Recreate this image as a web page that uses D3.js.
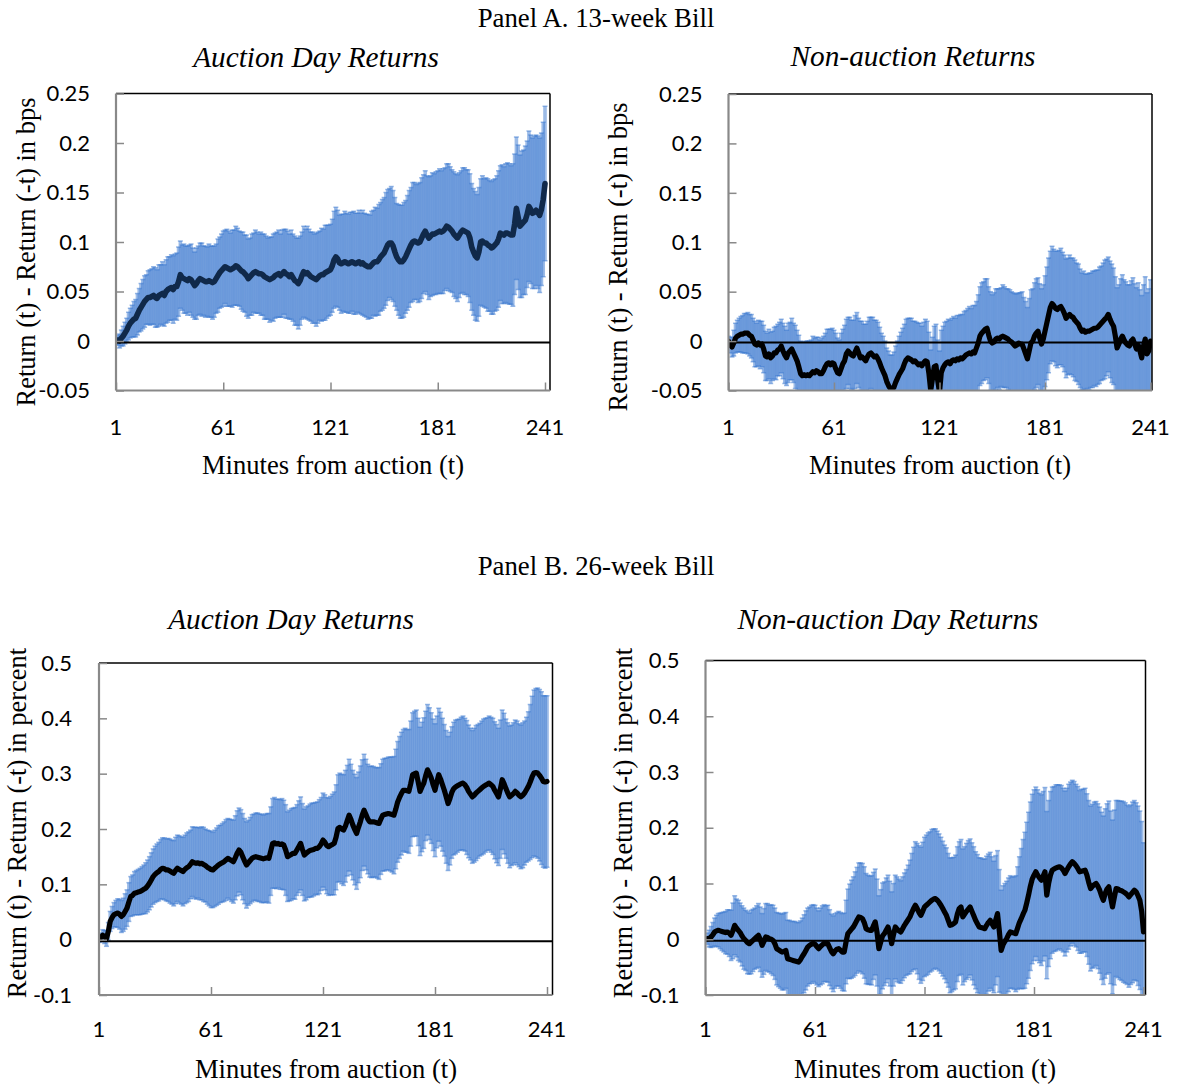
<!DOCTYPE html>
<html><head><meta charset="utf-8">
<script src="https://cdn.jsdelivr.net/npm/d3@7"></script>
<style>body{margin:0;background:#fff}svg{display:block}</style>
</head><body>
<svg id="chart" width="1178" height="1084"></svg>
<script>
// ---------- DATA ----------
const minutes = d3.range(1, 242);            // minutes from auction 1..241
const xTickValues = [1, 61, 121, 181, 241];
const xTickLabels = ["1", "61", "121", "181", "241"];
const yTicks13 = [-0.05, 0, 0.05, 0.1, 0.15, 0.2, 0.25];
const yTickLabels13 = ["-0.05", "0", "0.05", "0.1", "0.15", "0.2", "0.25"];
const yTicks26 = [-0.1, 0, 0.1, 0.2, 0.3, 0.4, 0.5];
const yTickLabels26 = ["-0.1", "0", "0.1", "0.2", "0.3", "0.4", "0.5"];

const panelTitles = ["Panel A. 13-week Bill", "Panel B. 26-week Bill"];
const subTitles = ["Auction Day Returns", "Non-auction Returns", "Auction Day Returns", "Non-auction Day Returns"];
const yTitles = ["Return (t) - Return (-t) in bps", "Return (t) - Return (-t) in bps",
                 "Return (t) - Return (-t) in percent", "Return (t) - Return (-t) in percent"];
const xTitle = "Minutes from auction (t)";

// 13-week bill, auction day: mean and CI half-width
const mean13Auction = [
0.000,0.001,0.000,0.003,0.005,0.008,0.011,0.015,0.018,0.020,
0.022,0.023,0.027,0.031,0.034,0.037,0.040,0.042,0.044,0.044,
0.045,0.046,0.044,0.043,0.046,0.047,0.048,0.046,0.050,0.052,
0.053,0.054,0.052,0.055,0.055,0.060,0.067,0.064,0.063,0.062,
0.061,0.063,0.062,0.059,0.056,0.058,0.061,0.063,0.062,0.061,
0.060,0.060,0.061,0.060,0.059,0.060,0.063,0.066,0.069,0.071,
0.073,0.075,0.074,0.073,0.072,0.073,0.074,0.076,0.075,0.073,
0.071,0.070,0.068,0.066,0.063,0.065,0.067,0.069,0.070,0.069,
0.068,0.068,0.067,0.065,0.064,0.063,0.062,0.063,0.064,0.066,
0.067,0.068,0.066,0.068,0.070,0.068,0.067,0.065,0.067,0.064,
0.061,0.060,0.058,0.061,0.066,0.070,0.068,0.069,0.067,0.065,
0.064,0.063,0.062,0.064,0.066,0.067,0.067,0.069,0.070,0.071,
0.072,0.076,0.082,0.085,0.083,0.079,0.078,0.079,0.080,0.079,
0.078,0.079,0.080,0.079,0.078,0.079,0.080,0.078,0.079,0.077,
0.076,0.075,0.075,0.077,0.079,0.080,0.080,0.082,0.085,0.087,
0.089,0.093,0.097,0.099,0.099,0.096,0.090,0.085,0.082,0.080,
0.080,0.082,0.085,0.089,0.093,0.097,0.100,0.101,0.100,0.099,
0.100,0.104,0.108,0.111,0.107,0.104,0.106,0.108,0.108,0.109,
0.110,0.111,0.110,0.111,0.113,0.116,0.115,0.113,0.111,0.108,
0.106,0.104,0.107,0.110,0.112,0.111,0.110,0.109,0.104,0.095,
0.090,0.086,0.084,0.090,0.100,0.101,0.099,0.099,0.097,0.096,
0.094,0.095,0.097,0.099,0.103,0.109,0.108,0.107,0.109,0.109,
0.108,0.107,0.107,0.118,0.134,0.125,0.116,0.118,0.120,0.122,
0.128,0.136,0.133,0.129,0.130,0.132,0.130,0.127,0.133,0.143,
0.159];
const ci13Auction = [
0.004,0.005,0.007,0.008,0.010,0.011,0.012,0.014,0.015,0.016,
0.018,0.019,0.021,0.022,0.024,0.025,0.026,0.025,0.027,0.028,
0.028,0.029,0.030,0.029,0.031,0.030,0.032,0.031,0.032,0.033,
0.032,0.033,0.034,0.033,0.034,0.035,0.034,0.033,0.035,0.034,
0.035,0.034,0.036,0.035,0.034,0.036,0.035,0.036,0.037,0.035,
0.036,0.035,0.037,0.036,0.037,0.036,0.035,0.037,0.036,0.037,
0.038,0.037,0.039,0.038,0.037,0.039,0.038,0.040,0.039,0.038,
0.039,0.040,0.039,0.041,0.040,0.039,0.041,0.040,0.042,0.041,
0.040,0.042,0.041,0.043,0.042,0.041,0.043,0.042,0.044,0.043,
0.043,0.044,0.042,0.044,0.043,0.045,0.044,0.043,0.045,0.044,
0.045,0.044,0.046,0.045,0.044,0.046,0.045,0.047,0.046,0.045,
0.046,0.045,0.047,0.046,0.045,0.047,0.046,0.048,0.047,0.046,
0.046,0.047,0.049,0.050,0.049,0.048,0.050,0.049,0.051,0.050,
0.050,0.051,0.050,0.052,0.051,0.050,0.052,0.051,0.053,0.052,
0.052,0.053,0.052,0.054,0.053,0.055,0.054,0.056,0.055,0.056,
0.056,0.057,0.056,0.055,0.057,0.056,0.055,0.054,0.056,0.057,
0.057,0.058,0.057,0.058,0.059,0.058,0.060,0.059,0.058,0.060,
0.060,0.061,0.060,0.061,0.060,0.062,0.061,0.062,0.061,0.062,
0.062,0.063,0.062,0.063,0.062,0.063,0.064,0.063,0.062,0.063,
0.063,0.064,0.063,0.062,0.063,0.064,0.063,0.064,0.065,0.064,
0.064,0.065,0.064,0.065,0.064,0.066,0.065,0.066,0.067,0.066,
0.067,0.068,0.067,0.068,0.069,0.068,0.070,0.069,0.070,0.071,
0.071,0.070,0.072,0.071,0.072,0.073,0.072,0.074,0.073,0.075,
0.074,0.076,0.075,0.076,0.077,0.076,0.077,0.078,0.077,0.078,
0.078];

// 13-week bill, non-auction days
const mean13NonAuction = [
0.000,-0.004,-0.006,-0.002,0.003,0.005,0.006,0.007,0.007,0.008,
0.008,0.008,0.006,0.005,0.001,-0.003,-0.004,-0.002,-0.004,-0.003,
-0.008,-0.015,-0.016,-0.013,-0.017,-0.015,-0.012,-0.012,-0.009,-0.008,
-0.005,-0.010,-0.014,-0.017,-0.012,-0.010,-0.008,-0.012,-0.016,-0.020,
-0.026,-0.033,-0.035,-0.034,-0.035,-0.034,-0.035,-0.033,-0.031,-0.032,
-0.030,-0.031,-0.033,-0.033,-0.030,-0.026,-0.023,-0.022,-0.024,-0.022,
-0.023,-0.028,-0.032,-0.033,-0.028,-0.023,-0.020,-0.013,-0.010,-0.012,
-0.014,-0.015,-0.011,-0.007,-0.012,-0.017,-0.016,-0.018,-0.020,-0.016,
-0.013,-0.012,-0.014,-0.016,-0.015,-0.018,-0.022,-0.027,-0.031,-0.035,
-0.041,-0.045,-0.048,-0.049,-0.047,-0.042,-0.038,-0.034,-0.031,-0.028,
-0.023,-0.019,-0.017,-0.018,-0.019,-0.021,-0.020,-0.022,-0.024,-0.023,
-0.025,-0.022,-0.020,-0.021,-0.033,-0.050,-0.038,-0.026,-0.025,-0.040,
-0.052,-0.032,-0.027,-0.024,-0.022,-0.021,-0.023,-0.020,-0.019,-0.020,
-0.018,-0.019,-0.017,-0.018,-0.016,-0.014,-0.013,-0.012,-0.013,-0.011,
-0.012,-0.007,-0.002,0.005,0.008,0.010,0.012,0.013,0.006,0.000,
-0.002,-0.001,0.002,0.003,0.002,0.004,0.005,0.004,0.003,0.002,
0.000,-0.001,-0.003,-0.005,-0.004,-0.002,-0.003,-0.003,-0.008,-0.013,
-0.018,-0.010,-0.002,0.000,0.005,0.008,0.010,0.003,-0.003,0.002,
0.010,0.018,0.026,0.034,0.038,0.036,0.033,0.032,0.034,0.035,
0.032,0.028,0.023,0.025,0.027,0.025,0.024,0.021,0.019,0.017,
0.013,0.010,0.011,0.009,0.010,0.010,0.011,0.012,0.013,0.013,
0.014,0.016,0.018,0.020,0.022,0.024,0.027,0.022,0.018,0.015,
0.005,-0.007,-0.003,0.002,0.005,0.001,-0.002,-0.004,-0.005,0.000,
0.002,-0.003,-0.008,-0.004,-0.010,-0.017,-0.005,0.002,-0.013,-0.010,
0.000];
const ci13NonAuction = [
0.005,0.008,0.010,0.013,0.015,0.016,0.017,0.018,0.019,0.020,
0.020,0.021,0.021,0.022,0.022,0.023,0.022,0.023,0.024,0.023,
0.024,0.025,0.024,0.025,0.026,0.025,0.026,0.027,0.026,0.027,
0.027,0.028,0.029,0.028,0.030,0.029,0.031,0.030,0.032,0.031,
0.032,0.033,0.034,0.033,0.035,0.034,0.035,0.034,0.036,0.035,
0.034,0.035,0.034,0.036,0.035,0.034,0.035,0.034,0.036,0.035,
0.034,0.036,0.035,0.034,0.036,0.035,0.036,0.035,0.034,0.036,
0.035,0.036,0.037,0.036,0.035,0.037,0.036,0.035,0.037,0.036,
0.037,0.036,0.038,0.037,0.036,0.037,0.036,0.035,0.036,0.035,
0.034,0.035,0.034,0.035,0.036,0.037,0.038,0.039,0.040,0.041,
0.040,0.041,0.040,0.041,0.042,0.041,0.040,0.041,0.042,0.041,
0.040,0.041,0.042,0.041,0.042,0.041,0.042,0.041,0.042,0.041,
0.042,0.043,0.042,0.043,0.042,0.043,0.044,0.043,0.044,0.043,
0.044,0.045,0.044,0.045,0.046,0.045,0.046,0.047,0.046,0.047,
0.048,0.047,0.049,0.050,0.051,0.050,0.051,0.050,0.049,0.050,
0.049,0.050,0.051,0.050,0.051,0.050,0.052,0.051,0.050,0.051,
0.052,0.051,0.052,0.053,0.052,0.051,0.052,0.053,0.052,0.053,
0.052,0.053,0.054,0.053,0.054,0.055,0.054,0.055,0.056,0.055,
0.056,0.057,0.058,0.057,0.058,0.057,0.058,0.059,0.058,0.059,
0.058,0.059,0.060,0.059,0.060,0.059,0.060,0.061,0.060,0.061,
0.060,0.059,0.060,0.059,0.058,0.059,0.058,0.059,0.058,0.059,
0.058,0.059,0.058,0.059,0.060,0.059,0.058,0.059,0.060,0.059,
0.060,0.061,0.060,0.061,0.062,0.061,0.062,0.061,0.062,0.061,
0.062,0.061,0.062,0.063,0.062,0.063,0.062,0.063,0.062,0.063,
0.062];

// 26-week bill, auction day
const mean26Auction = [
0.000,0.004,0.008,0.005,0.002,0.015,0.033,0.040,0.045,0.047,
0.048,0.046,0.042,0.045,0.051,0.057,0.068,0.078,0.080,0.084,
0.085,0.086,0.087,0.089,0.091,0.093,0.097,0.102,0.108,0.114,
0.118,0.121,0.123,0.127,0.129,0.128,0.126,0.126,0.124,0.122,
0.120,0.125,0.129,0.127,0.125,0.123,0.127,0.130,0.132,0.136,
0.141,0.139,0.138,0.139,0.137,0.138,0.136,0.134,0.131,0.129,
0.127,0.126,0.129,0.132,0.135,0.137,0.139,0.141,0.144,0.147,
0.145,0.143,0.141,0.148,0.156,0.162,0.158,0.150,0.142,0.135,
0.139,0.143,0.147,0.149,0.150,0.149,0.148,0.147,0.146,0.147,
0.148,0.147,0.160,0.174,0.175,0.173,0.174,0.172,0.173,0.171,
0.162,0.150,0.152,0.154,0.156,0.156,0.162,0.168,0.174,0.163,
0.153,0.156,0.159,0.161,0.162,0.163,0.165,0.165,0.168,0.173,
0.180,0.176,0.170,0.168,0.170,0.172,0.174,0.185,0.201,0.203,
0.200,0.198,0.205,0.215,0.225,0.217,0.207,0.199,0.192,0.203,
0.213,0.225,0.234,0.226,0.218,0.213,0.213,0.213,0.212,0.211,
0.210,0.218,0.225,0.226,0.227,0.228,0.227,0.226,0.225,0.236,
0.249,0.257,0.264,0.270,0.270,0.269,0.268,0.282,0.298,0.300,
0.301,0.285,0.268,0.276,0.283,0.296,0.307,0.300,0.292,0.280,
0.270,0.285,0.298,0.290,0.280,0.270,0.258,0.246,0.255,0.266,
0.273,0.276,0.278,0.280,0.282,0.283,0.280,0.275,0.268,0.263,
0.258,0.261,0.265,0.268,0.271,0.274,0.277,0.279,0.281,0.283,
0.280,0.277,0.270,0.264,0.258,0.272,0.289,0.282,0.273,0.265,
0.258,0.261,0.264,0.268,0.265,0.261,0.258,0.261,0.265,0.271,
0.277,0.285,0.294,0.301,0.302,0.301,0.297,0.292,0.286,0.285,
0.286];
const ci26Auction = [
0.005,0.008,0.010,0.012,0.014,0.016,0.018,0.020,0.022,0.024,
0.026,0.027,0.029,0.030,0.032,0.033,0.035,0.036,0.037,0.039,
0.040,0.041,0.042,0.043,0.044,0.046,0.047,0.048,0.049,0.050,
0.051,0.052,0.053,0.054,0.055,0.056,0.056,0.057,0.058,0.058,
0.059,0.060,0.060,0.061,0.061,0.062,0.062,0.063,0.063,0.062,
0.063,0.064,0.065,0.064,0.065,0.066,0.067,0.066,0.067,0.068,
0.069,0.068,0.069,0.070,0.071,0.070,0.071,0.072,0.073,0.072,
0.073,0.074,0.075,0.076,0.077,0.076,0.077,0.078,0.077,0.078,
0.077,0.078,0.079,0.078,0.079,0.080,0.079,0.080,0.079,0.080,
0.080,0.081,0.080,0.081,0.082,0.081,0.080,0.081,0.082,0.081,
0.082,0.081,0.082,0.083,0.082,0.083,0.082,0.083,0.084,0.083,
0.083,0.084,0.083,0.084,0.085,0.084,0.083,0.084,0.085,0.084,
0.085,0.086,0.087,0.088,0.089,0.091,0.093,0.095,0.097,0.098,
0.099,0.100,0.101,0.100,0.101,0.100,0.099,0.100,0.101,0.100,
0.101,0.100,0.101,0.100,0.099,0.100,0.101,0.100,0.099,0.100,
0.101,0.100,0.101,0.102,0.101,0.102,0.103,0.104,0.106,0.108,
0.109,0.110,0.111,0.110,0.112,0.111,0.112,0.113,0.112,0.113,
0.114,0.115,0.116,0.117,0.118,0.117,0.118,0.119,0.118,0.119,
0.120,0.119,0.120,0.121,0.120,0.119,0.120,0.121,0.120,0.119,
0.120,0.121,0.120,0.119,0.120,0.121,0.120,0.121,0.120,0.119,
0.120,0.121,0.122,0.121,0.120,0.121,0.122,0.121,0.120,0.121,
0.122,0.123,0.124,0.125,0.124,0.125,0.126,0.127,0.126,0.127,
0.128,0.127,0.128,0.129,0.130,0.129,0.130,0.131,0.130,0.131,
0.135,0.140,0.146,0.150,0.152,0.154,0.155,0.156,0.155,0.156,
0.155];

// 26-week bill, non-auction days
const mean26NonAuction = [
0.000,0.001,0.001,0.004,0.008,0.013,0.015,0.016,0.015,0.014,
0.013,0.012,0.013,0.011,0.007,0.015,0.025,0.020,0.016,0.012,
0.006,0.001,-0.002,-0.006,-0.008,-0.005,-0.002,0.001,0.004,0.007,
0.000,-0.011,-0.004,0.004,0.003,0.001,0.000,-0.002,-0.008,-0.017,
-0.019,-0.021,-0.023,-0.022,-0.020,-0.035,-0.036,-0.037,-0.038,-0.039,
-0.040,-0.041,-0.037,-0.031,-0.026,-0.020,-0.014,-0.011,-0.009,-0.007,
-0.009,-0.013,-0.017,-0.013,-0.010,-0.007,-0.008,-0.008,-0.015,-0.022,
-0.026,-0.021,-0.018,-0.017,-0.020,-0.023,-0.023,-0.005,0.010,0.014,
0.018,0.022,0.028,0.034,0.040,0.039,0.037,0.030,0.019,0.017,
0.016,0.016,0.024,0.031,0.012,-0.017,-0.005,0.006,0.010,0.016,
0.022,0.010,-0.008,0.008,0.022,0.018,0.015,0.013,0.019,0.025,
0.030,0.035,0.040,0.048,0.055,0.061,0.055,0.048,0.043,0.050,
0.058,0.061,0.064,0.067,0.070,0.072,0.073,0.070,0.066,0.061,
0.055,0.049,0.043,0.034,0.025,0.026,0.028,0.031,0.045,0.055,
0.058,0.040,0.045,0.050,0.054,0.058,0.050,0.042,0.034,0.028,
0.022,0.021,0.020,0.019,0.025,0.030,0.034,0.028,0.022,0.034,
0.046,0.015,-0.020,-0.010,-0.004,0.001,0.008,0.013,0.012,0.011,
0.010,0.020,0.030,0.037,0.045,0.052,0.065,0.079,0.095,0.108,
0.115,0.121,0.115,0.110,0.106,0.113,0.121,0.079,0.100,0.115,
0.124,0.126,0.128,0.129,0.130,0.128,0.124,0.118,0.124,0.130,
0.135,0.139,0.136,0.132,0.127,0.121,0.122,0.123,0.124,0.115,
0.102,0.091,0.095,0.098,0.100,0.095,0.088,0.078,0.070,0.082,
0.090,0.094,0.075,0.058,0.075,0.091,0.090,0.088,0.087,0.085,
0.083,0.080,0.076,0.080,0.084,0.088,0.085,0.078,0.070,0.050,
0.013];
const ci26NonAuction = [
0.005,0.010,0.015,0.019,0.022,0.025,0.028,0.030,0.032,0.034,
0.036,0.038,0.040,0.042,0.045,0.050,0.053,0.052,0.054,0.053,
0.054,0.055,0.054,0.056,0.055,0.057,0.056,0.055,0.056,0.057,
0.058,0.057,0.059,0.060,0.061,0.060,0.062,0.063,0.064,0.065,
0.066,0.067,0.068,0.069,0.068,0.069,0.070,0.069,0.070,0.071,
0.070,0.071,0.070,0.069,0.070,0.071,0.070,0.069,0.070,0.069,
0.070,0.069,0.068,0.069,0.070,0.069,0.068,0.069,0.068,0.067,
0.068,0.067,0.066,0.067,0.068,0.069,0.070,0.075,0.080,0.085,
0.088,0.090,0.093,0.095,0.097,0.098,0.099,0.100,0.099,0.098,
0.097,0.098,0.096,0.095,0.096,0.095,0.094,0.095,0.093,0.094,
0.093,0.094,0.093,0.092,0.093,0.094,0.093,0.092,0.093,0.094,
0.095,0.098,0.102,0.106,0.110,0.114,0.117,0.120,0.122,0.124,
0.125,0.126,0.127,0.126,0.127,0.126,0.125,0.124,0.123,0.122,
0.121,0.120,0.121,0.120,0.121,0.120,0.119,0.120,0.121,0.120,
0.121,0.122,0.121,0.122,0.123,0.122,0.123,0.124,0.123,0.124,
0.124,0.125,0.124,0.125,0.124,0.123,0.122,0.120,0.118,0.116,
0.113,0.110,0.108,0.106,0.104,0.103,0.102,0.101,0.100,0.101,
0.104,0.110,0.118,0.126,0.134,0.140,0.145,0.149,0.151,0.152,
0.153,0.152,0.153,0.152,0.153,0.152,0.151,0.150,0.149,0.150,
0.149,0.148,0.149,0.148,0.147,0.148,0.147,0.148,0.147,0.148,
0.147,0.146,0.147,0.146,0.147,0.146,0.147,0.146,0.147,0.146,
0.147,0.148,0.147,0.148,0.147,0.148,0.149,0.150,0.151,0.152,
0.153,0.154,0.155,0.156,0.157,0.158,0.159,0.160,0.161,0.162,
0.162,0.161,0.162,0.161,0.162,0.161,0.160,0.161,0.160,0.161,
0.160];

// ---------- LAYOUT ----------
const svg = d3.select("#chart");
const serif = "'Liberation Serif','Times New Roman',Times,serif";
const sans = "Lato,'Open Sans',sans-serif";

const panels = [
  {mean: mean13Auction, ci: ci13Auction, yTicks: yTicks13, yLabels: yTickLabels13, yDomain: [-0.05, 0.25],
   left: 116, right: 550, x241: 545, top: 93.5, bottom: 390.5, lineColor: "#10294a", lineW: 5.6,
   title: subTitles[0], titleX: 316, titleY: 57, yTitle: yTitles[0], yTitleX: 26, yTitleY: 252,
   yLabelX: 90, xLabelY: 427, xTitleX: 333, xTitleY: 465},
  {mean: mean13NonAuction, ci: ci13NonAuction, yTicks: yTicks13, yLabels: yTickLabels13, yDomain: [-0.05, 0.25],
   left: 728.5, right: 1152, x241: 1150.5, top: 94, bottom: 390.5, lineColor: "#000", lineW: 5.2,
   title: subTitles[1], titleX: 913, titleY: 56, yTitle: yTitles[1], yTitleX: 618, yTitleY: 257,
   yLabelX: 702.5, xLabelY: 427, xTitleX: 940, xTitleY: 465},
  {mean: mean26Auction, ci: ci26Auction, yTicks: yTicks26, yLabels: yTickLabels26, yDomain: [-0.1, 0.5],
   left: 99, right: 552.5, x241: 547, top: 663, bottom: 995, lineColor: "#000", lineW: 5.2,
   title: subTitles[2], titleX: 291, titleY: 619, yTitle: yTitles[2], yTitleX: 17, yTitleY: 823,
   yLabelX: 72, xLabelY: 1029, xTitleX: 326, xTitleY: 1069},
  {mean: mean26NonAuction, ci: ci26NonAuction, yTicks: yTicks26, yLabels: yTickLabels26, yDomain: [-0.1, 0.5],
   left: 705.5, right: 1145.5, x241: 1143.5, top: 660.5, bottom: 995, lineColor: "#000", lineW: 5.2,
   title: subTitles[3], titleX: 888, titleY: 619, yTitle: yTitles[3], yTitleX: 623, yTitleY: 823,
   yLabelX: 679.5, xLabelY: 1029, xTitleX: 925, xTitleY: 1069}
];

// panel headers
[[panelTitles[0], 596, 18], [panelTitles[1], 596, 566]].forEach(([t, x, y]) => {
  svg.append("text").attr("x", x).attr("y", y).attr("dy", "0.35em")
    .attr("text-anchor", "middle").style("font-family", serif).style("font-size", "26.8px")
    .attr("fill", "#000").text(t);
});

panels.forEach((p, pi) => {
  const x = d3.scaleLinear().domain([1, 241]).range([p.left, p.x241]);
  const y = d3.scaleLinear().domain(p.yDomain).range([p.bottom, p.top]);
  const g = svg.append("g");

  const clipId = "clip" + pi;
  svg.append("clipPath").attr("id", clipId).append("rect")
    .attr("x", p.left).attr("y", p.top).attr("width", p.right - p.left).attr("height", p.bottom - p.top);

  const data = minutes.map((t, i) => ({t, m: p.mean[i], h: p.ci[i]}));
  const plot = g.append("g").attr("clip-path", `url(#${clipId})`);

  // error bars
  const eb = plot.append("g").attr("stroke", "#3a78d0").attr("stroke-opacity", 0.5).attr("fill", "none");
  eb.selectAll("line.v").data(data).join("line").attr("class", "v")
    .attr("x1", d => x(d.t)).attr("x2", d => x(d.t))
    .attr("y1", d => y(d.m + d.h)).attr("y2", d => y(d.m - d.h))
    .attr("stroke-width", 3.6);
  eb.selectAll("line.cu").data(data).join("line").attr("class", "cu")
    .attr("x1", d => x(d.t) - 2.5).attr("x2", d => x(d.t) + 2.5)
    .attr("y1", d => y(d.m + d.h)).attr("y2", d => y(d.m + d.h)).attr("stroke-width", 1.5);
  eb.selectAll("line.cl").data(data).join("line").attr("class", "cl")
    .attr("x1", d => x(d.t) - 2.5).attr("x2", d => x(d.t) + 2.5)
    .attr("y1", d => y(d.m - d.h)).attr("y2", d => y(d.m - d.h)).attr("stroke-width", 1.5);

  // zero line
  g.append("line").attr("x1", p.left).attr("x2", p.right).attr("y1", y(0) + 1.5).attr("y2", y(0) + 1.5)
    .attr("stroke", "#000").attr("stroke-width", 2);

  // mean line
  plot.append("path").datum(data)
    .attr("d", d3.line().x(d => x(d.t)).y(d => y(d.m)))
    .attr("fill", "none").attr("stroke", p.lineColor).attr("stroke-width", p.lineW)
    .attr("stroke-linejoin", "round").attr("stroke-linecap", "round");

  // frame: top and right black, left and bottom gray
  g.append("line").attr("x1", p.left).attr("x2", p.right).attr("y1", p.top).attr("y2", p.top)
    .attr("stroke", "#000").attr("stroke-width", 1.5);
  g.append("line").attr("x1", p.right).attr("x2", p.right).attr("y1", p.top).attr("y2", p.bottom)
    .attr("stroke", "#000").attr("stroke-width", 1.5);

  // y axis (ticks inside)
  const yAxis = d3.axisRight(y).tickValues(p.yTicks).tickSize(8).tickFormat("");
  const ya = g.append("g").attr("transform", `translate(${p.left},0)`).call(yAxis);
  ya.select(".domain").attr("stroke", "#898989").attr("stroke-width", 2.2)
    .attr("d", `M0,${p.top}V${p.bottom}`);
  ya.selectAll(".tick line").attr("stroke", "#898989").attr("stroke-width", 1.5);

  // x axis (ticks inside)
  const xAxis = d3.axisTop(x).tickValues(xTickValues).tickSize(8).tickFormat("");
  const xa = g.append("g").attr("transform", `translate(0,${p.bottom})`).call(xAxis);
  xa.select(".domain").attr("stroke", "#898989").attr("stroke-width", 2.2)
    .attr("d", `M${p.left},0H${p.right}`);
  xa.selectAll(".tick line").attr("stroke", "#898989").attr("stroke-width", 1.5);

  // tick labels
  g.selectAll("text.yl").data(p.yTicks).join("text").attr("class", "yl")
    .attr("x", p.yLabelX).attr("y", d => y(d)).attr("dy", "0.35em").attr("text-anchor", "end")
    .style("font-family", sans).style("font-size", "22px").attr("fill", "#000")
    .text((d, i) => p.yLabels[i]);
  g.selectAll("text.xl").data(xTickValues).join("text").attr("class", "xl")
    .attr("x", d => x(d)).attr("y", p.xLabelY).attr("dy", "0.35em").attr("text-anchor", "middle")
    .style("font-family", sans).style("font-size", "22px").attr("fill", "#000")
    .text((d, i) => xTickLabels[i]);

  // titles
  g.append("text").attr("x", p.titleX).attr("y", p.titleY).attr("dy", "0.35em")
    .attr("text-anchor", "middle").style("font-family", serif).style("font-style", "italic")
    .style("font-size", "29.3px").attr("fill", "#000").text(p.title);
  g.append("text").attr("transform", `translate(${p.yTitleX},${p.yTitleY}) rotate(-90)`)
    .attr("dy", "0.35em").attr("text-anchor", "middle").style("font-family", serif)
    .style("font-size", "26.5px").attr("fill", "#000").text(p.yTitle);
  g.append("text").attr("x", p.xTitleX).attr("y", p.xTitleY).attr("dy", "0.35em")
    .attr("text-anchor", "middle").style("font-family", serif)
    .style("font-size", "26.6px").attr("fill", "#000").text(xTitle);
});
</script>
</body></html>
